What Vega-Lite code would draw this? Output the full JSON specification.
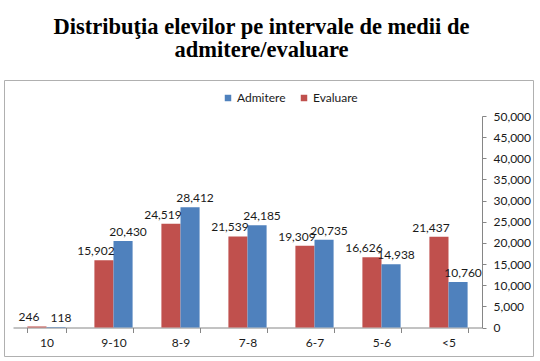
{
  "$schema": "https://vega.github.io/schema/vega-lite/v6.json",
  "autosize": {"type": "none"},
  "width": 529,
  "height": 276,
  "padding": {"left": 4, "top": 80, "right": 7, "bottom": 5},
  "background": "white",
  "title": {
    "text": ["Distribuţia elevilor pe intervale de medii de", "admitere/evaluare"],
    "font": "Liberation Serif",
    "fontSize": 22.5,
    "fontWeight": "bold",
    "color": "#000000",
    "anchor": "middle",
    "dx": -7,
    "offset": 19,
    "lineHeight": 23
  },
  "config": {
    "view": {"stroke": "#B0B0B0", "strokeWidth": 1},
    "axis": {
      "labelFont": "Lato",
      "labelFontSize": 12,
      "labelColor": "#1a1a1a",
      "domainColor": "#868686",
      "tickColor": "#868686",
      "grid": false,
      "title": null
    },
    "legend": {"labelFont": "Lato", "labelFontSize": 12, "labelColor": "#1a1a1a"}
  },
  "data": {
    "values": [
      {"interval": "10", "series": "Evaluare", "value": 246},
      {"interval": "10", "series": "Admitere", "value": 118},
      {"interval": "9-10", "series": "Evaluare", "value": 15902},
      {"interval": "9-10", "series": "Admitere", "value": 20430},
      {"interval": "8-9", "series": "Evaluare", "value": 24519},
      {"interval": "8-9", "series": "Admitere", "value": 28412},
      {"interval": "7-8", "series": "Evaluare", "value": 21539},
      {"interval": "7-8", "series": "Admitere", "value": 24185},
      {"interval": "6-7", "series": "Evaluare", "value": 19309},
      {"interval": "6-7", "series": "Admitere", "value": 20735},
      {"interval": "5-6", "series": "Evaluare", "value": 16626},
      {"interval": "5-6", "series": "Admitere", "value": 14938},
      {"interval": "<5", "series": "Evaluare", "value": 21437},
      {"interval": "<5", "series": "Admitere", "value": 10760}
    ]
  },
  "encoding": {
    "x": {
      "field": "interval",
      "type": "nominal",
      "sort": ["10", "9-10", "8-9", "7-8", "6-7", "5-6", "<5"],
      "scale": {"range": [9, 478], "paddingInner": 0.43, "paddingOuter": 0.215},
      "axis": {
        "orient": "bottom",
        "offset": -28.5,
        "labelAngle": 0,
        "tickBand": "extent",
        "tickSize": 5,
        "labelPadding": 5
      }
    },
    "y": {
      "field": "value",
      "type": "quantitative",
      "scale": {"domain": [0, 50000], "range": [247.5, 36], "nice": false},
      "axis": {
        "orient": "right",
        "offset": -51,
        "values": [0, 5000, 10000, 15000, 20000, 25000, 30000, 35000, 40000, 45000, 50000],
        "format": ",.0f",
        "tickSize": 4,
        "labelPadding": 7
      }
    },
    "xOffset": {
      "field": "series",
      "type": "nominal",
      "sort": ["Evaluare", "Admitere"],
      "scale": {"paddingInner": 0, "paddingOuter": 0}
    }
  },
  "layer": [
    {
      "mark": {"type": "bar"},
      "encoding": {
        "color": {
          "field": "series",
          "type": "nominal",
          "scale": {"domain": ["Admitere", "Evaluare"], "range": ["#4F81BD", "#C0504D"]},
          "legend": {
            "title": null,
            "orient": "none",
            "direction": "horizontal",
            "legendX": 218,
            "legendY": 12,
            "symbolType": "square",
            "symbolSize": 42,
            "symbolStrokeWidth": 0,
            "labelOffset": 3,
            "columnPadding": 12
          }
        }
      }
    },
    {
      "transform": [{"filter": "datum.series === 'Evaluare'"}],
      "mark": {"type": "text", "baseline": "bottom", "dy": -2, "dx": -8, "font": "Lato", "fontSize": 12, "color": "#1a1a1a"},
      "encoding": {"text": {"field": "value", "type": "quantitative", "format": ","}}
    },
    {
      "transform": [{"filter": "datum.series === 'Admitere'"}],
      "mark": {"type": "text", "baseline": "bottom", "dy": -2, "dx": 5, "font": "Lato", "fontSize": 12, "color": "#1a1a1a"},
      "encoding": {"text": {"field": "value", "type": "quantitative", "format": ","}}
    }
  ]
}
